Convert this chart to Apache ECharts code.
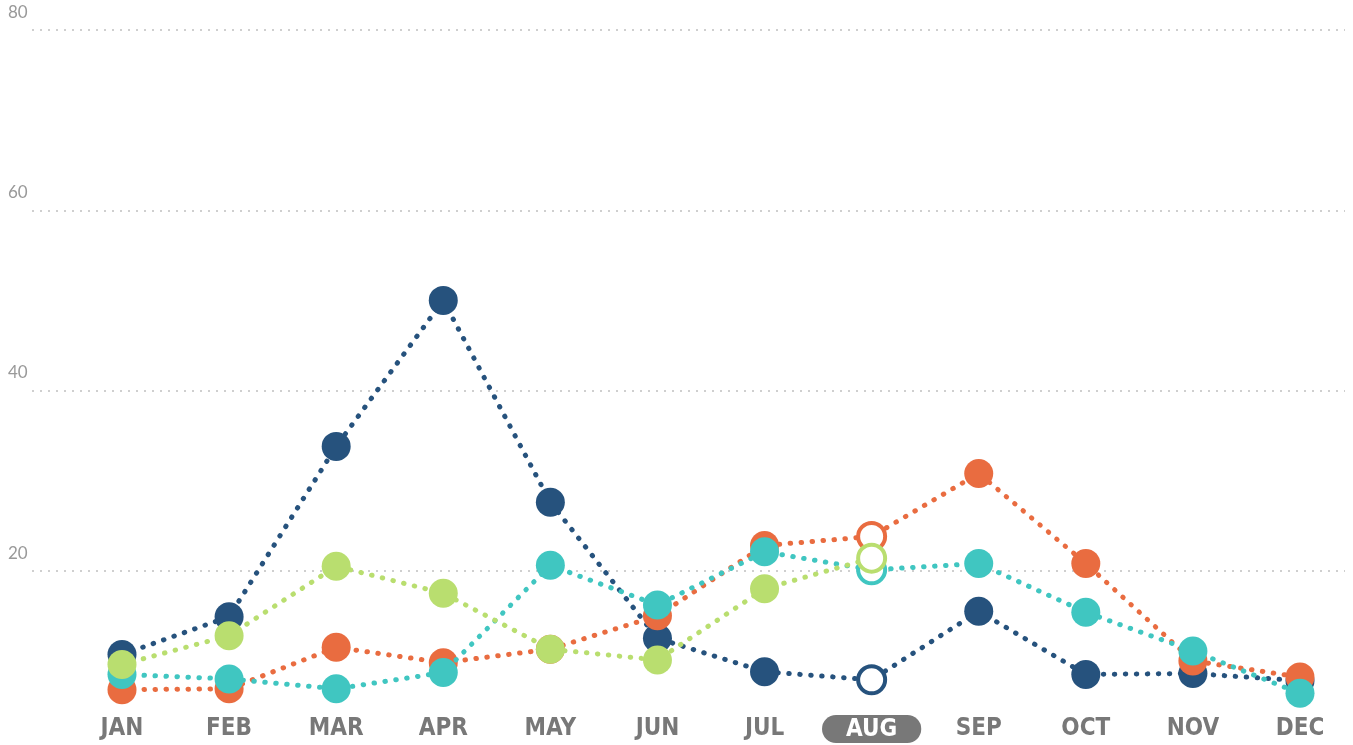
<!DOCTYPE html>
<html>
<head>
<meta charset="utf-8">
<title>Monthly chart</title>
<script src="https://cdn.jsdelivr.net/npm/echarts@6/dist/echarts.min.js"></script>
<style>
  html, body { margin: 0; padding: 0; background: #fff; }
  #chart { width: 1353px; height: 745px; }
</style>
</head>
<body>
<div id="chart"></div>
<script>
// data
var months = ['JAN', 'FEB', 'MAR', 'APR', 'MAY', 'JUN', 'JUL', 'AUG', 'SEP', 'OCT', 'NOV', 'DEC']
var yTicks = [0, 20, 40, 60, 80]
var navyValues = [10.7, 14.9, 33.8, 50.0, 27.6, 12.5, 8.8, 7.9, 15.5, 8.5, 8.6, 7.8]
var orangeValues = [6.8, 6.9, 11.5, 9.8, 11.3, 15.0, 22.8, 23.8, 30.8, 20.8, 10.0, 8.2]
var tealValues = [8.5, 8.0, 6.9, 8.7, 20.6, 16.2, 22.1, 20.1, 20.8, 15.4, 11.1, 6.4]
var greenValues = [9.6, 12.8, 20.5, 17.5, 11.3, 10.1, 18.0, 21.4]
var currentMonth = 'AUG'

var labelGray = '#787878'
var labelFont = '"DejaVu Sans Condensed", "DejaVu Sans", sans-serif'
var colors = {
  navy: '#26527d',
  orange: '#e96c40',
  teal: '#40c6c1',
  green: '#b9de6f'
}

function makeSeries(name, values, color, z) {
  var hl = months.indexOf(currentMonth)
  return {
    name: name,
    type: 'line',
    xAxisIndex: 1,
    yAxisIndex: 1,
    z: z,
    data: values.map(function(v, i) {
      if (i !== hl) return v
      // current month is drawn as a ring
      return {
        value: v,
        symbolSize: 27,
        itemStyle: { color: '#fff', borderColor: color, borderWidth: 4 }
      }
    }),
    symbol: 'circle',
    symbolSize: 29,
    showAllSymbol: true,
    itemStyle: { color: color },
    lineStyle: { color: color, width: 5, type: [0.5, 10.5], cap: 'round' },
    emphasis: { disabled: true }
  }
}

var chart = echarts.init(document.getElementById('chart'))
chart.setOption({
  animation: false,
  grid: [
    // full width grid, only for the dotted split lines and y labels
    { left: 32, right: 8, top: 30, height: 721, outerBoundsMode: 'none' },
    // grid with the data, zero sits just below the bottom edge
    { left: 122, right: 53, top: 30, height: 721, outerBoundsMode: 'none' }
  ],
  xAxis: [
    { gridIndex: 0, type: 'value', min: 0, max: 1, show: false },
    {
      gridIndex: 1,
      type: 'category',
      data: months,
      boundaryGap: false,
      offset: -22,
      axisLine: { show: false },
      axisTick: { show: false },
      splitLine: { show: false },
      axisLabel: {
        margin: 0,
        verticalAlign: 'middle',
        interval: 0,
        formatter: function(v) {
          return v === currentMonth ? '{hl|' + v + '}' : '{n|' + v + '}'
        },
        rich: {
          n: {
            fontFamily: labelFont,
            fontWeight: 'bold condensed',
            fontSize: 24,
            color: labelGray
          },
          hl: {
            fontFamily: labelFont,
            fontWeight: 'bold condensed',
            fontSize: 24,
            lineHeight: 24,
            color: '#fff',
            backgroundColor: labelGray,
            borderRadius: 14,
            padding: [3, 24, 1, 24]
          }
        }
      }
    }
  ],
  yAxis: [
    {
      gridIndex: 0,
      type: 'value',
      min: yTicks[0],
      max: yTicks[yTicks.length - 1],
      interval: yTicks[1] - yTicks[0],
      axisLine: { show: false },
      axisTick: { show: false },
      axisLabel: {
        showMinLabel: false,
        align: 'left',
        verticalAlign: 'bottom',
        margin: 24,
        padding: [0, 0, 9, 0],
        fontFamily: 'Lato, sans-serif',
        fontSize: 17,
        color: '#999'
      },
      splitLine: {
        showMinLine: false,
        lineStyle: { color: '#cfcfcf', width: 2, type: [2, 6] }
      }
    },
    {
      gridIndex: 1,
      type: 'value',
      min: yTicks[0],
      max: yTicks[yTicks.length - 1],
      show: false
    }
  ],
  series: [
    makeSeries('Navy', navyValues, colors.navy, 2),
    makeSeries('Orange', orangeValues, colors.orange, 3),
    makeSeries('Teal', tealValues, colors.teal, 4),
    makeSeries('Green', greenValues, colors.green, 5)
  ]
})
</script>
</body>
</html>
